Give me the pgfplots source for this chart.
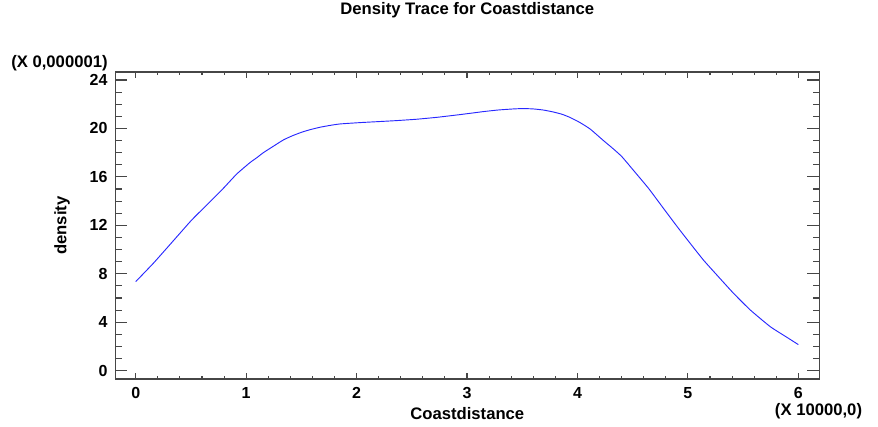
\documentclass[border=0pt]{standalone}
\usepackage{fontspec}
\setmainfont{Liberation Sans}
\usepackage{pgfplots}
\pgfplotsset{compat=1.18}
\definecolor{axgray}{RGB}{70,70,70}
\definecolor{traceblue}{RGB}{40,40,255}
\begin{document}
\begin{tikzpicture}[x=0.75pt,y=0.75pt]
\useasboundingbox (0,0) rectangle (878,427);
\begin{axis}[
  at={(86.475pt,36pt)}, anchor=south west,
  scale only axis, width=528pt, height=230.25pt,
  xmin=-0.185, xmax=6.19, ymin=-0.69, ymax=24.66,
  xtick={0,1,2,3,4,5,6}, ytick={0,4,8,12,16,20,24},
  minor x tick num=4, minor y tick num=3,
  tick align=inside,
  major tick length=9pt, minor tick length=5pt,
  xtick style={/pgfplots/major tick length=4.3pt,/pgfplots/minor tick length=2.6pt},
  axis line style={axgray, line width=1.1pt},
  every tick/.style={axgray, line width=0.8pt},
  /pgf/number format/assume math mode=true,
  ticklabel style={font=\bfseries\fontsize{12}{14}\selectfont, inner sep=0pt},
  yticklabel style={anchor=east, xshift=-5.7pt},
  xticklabel style={anchor=north, yshift=-6pt},
  clip=false,
  title={Density Trace for Coastdistance},
  title style={at={(rel axis cs:0.5,1.176)}, anchor=center, font=\bfseries\fontsize{12.5}{14}\selectfont},
  xlabel={Coastdistance},
  xlabel style={at={(rel axis cs:0.5,-0.111)}, anchor=center, font=\bfseries\fontsize{12.5}{14}\selectfont},
  ylabel={density},
  ylabel style={at={(rel axis cs:-0.0757,0.5)}, anchor=center, font=\bfseries\fontsize{12.5}{14}\selectfont},
]
\addplot[traceblue, line width=0.7pt, smooth, tension=0.3] table {
x y
0 7.35
0.16 8.87
0.28 10.1
0.401 11.35
0.507 12.44
0.643 13.68
0.794 15.06
0.915 16.24
1.035 17.18
1.096 17.58
1.156 18.0
1.25 18.55
1.337 19.05
1.42 19.4
1.504 19.69
1.58 19.9
1.67 20.1
1.76 20.25
1.85 20.37
2.03 20.48
2.15 20.54
2.35 20.64
2.545 20.76
2.73 20.92
2.908 21.11
3.03 21.25
3.149 21.39
3.28 21.52
3.42 21.61
3.51 21.64
3.60 21.61
3.69 21.52
3.78 21.36
3.86 21.17
3.93 20.92
4.02 20.5
4.115 19.95
4.235 19.0
4.32 18.35
4.402 17.67
4.52 16.4
4.643 15.06
4.778 13.41
4.914 11.76
5.02 10.52
5.14 9.14
5.262 7.90
5.413 6.39
5.565 5.01
5.746 3.63
5.897 2.75
6.0 2.15
};
\node[font=\bfseries\fontsize{12.5}{14}\selectfont] at (rel axis cs:0.9989,-0.104) {(X 10000,0)};
\node[font=\bfseries\fontsize{12.5}{14}\selectfont] at (rel axis cs:-0.0793,1.029) {(X 0,000001)};
\end{axis}
\end{tikzpicture}
\end{document}
